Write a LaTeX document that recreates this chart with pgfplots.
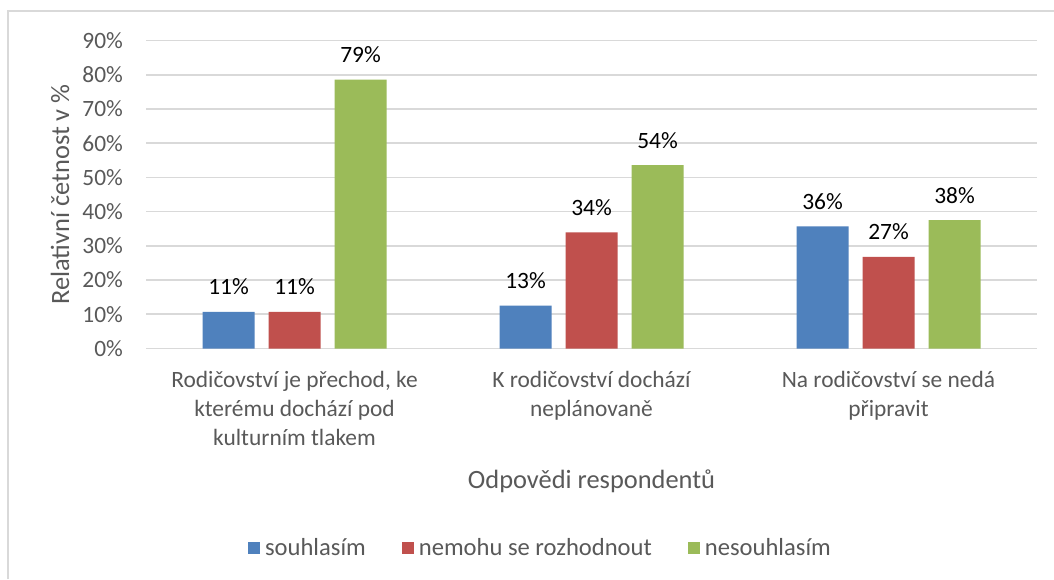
\documentclass[border=0pt]{standalone}
\usepackage{fontspec}
\setmainfont{Carlito}
\usepackage{pgfplots}
\pgfplotsset{compat=1.18}
\definecolor{cblue}{HTML}{4F81BD}
\definecolor{cred}{HTML}{C0504D}
\definecolor{cgreen}{HTML}{9BBB59}
\definecolor{txtgray}{HTML}{595959}
\definecolor{gridgray}{HTML}{D9D9D9}

\begin{document}
\begin{tikzpicture}
\useasboundingbox (0,0) rectangle (527pt,289.5pt);
\fill[white] (0,0) rectangle (527pt,289.5pt);
\draw[gridgray, line width=0.8pt] (4pt,0) -- (4pt,284pt) -- (527pt,284pt);
\begin{axis}[
    at={(73pt,115.25pt)}, anchor=south west,
    scale only axis, width=445.5pt, height=154pt,
    ybar=7pt, bar width=26pt,
    xmin=-0.5, xmax=2.5, ymin=0, ymax=90,
    xtick={0,1,2},
    xticklabels={{Rodičovství je přechod, ke\\kterému dochází pod\\kulturním tlakem},
                 {K rodičovství dochází\\neplánovaně},
                 {Na rodičovství se nedá\\připravit}},
    ytick={0,10,...,90},
    yticklabel={\pgfmathprintnumber{\tick}\%},
    /pgf/number format/assume math mode=true,
    ymajorgrids, grid style={gridgray, line width=0.8pt},
    axis line style={draw=none},
    major tick length=0pt,
    tick label style={text=txtgray, font=\fontsize{11.7}{14.5}\selectfont},
    x tick label style={align=center, anchor=north, yshift=-8pt},
    y tick label style={anchor=east, xshift=-8pt},
    xlabel={Odpovědi respondentů},
    ylabel={Relativní četnost v \%},
    label style={text=txtgray, font=\fontsize{13.2}{15}\selectfont},
    xlabel style={at={(axis description cs:0.5,-0.43)}, anchor=center},
    ylabel style={at={(axis description cs:-0.0965,0.5)}, anchor=center},
    point meta=explicit symbolic,
    nodes near coords,
    every node near coord/.append style={anchor=base, yshift=8.5pt, text=black,
        font=\fontsize{11.7}{14}\selectfont},
    legend style={at={(axis description cs:0.4444,-0.649)}, anchor=center,
        draw=none, fill=none, legend columns=-1, text=txtgray,
        font=\fontsize{12.3}{14}\selectfont,
        nodes={inner xsep=2.5pt},
        /tikz/every even column/.append style={column sep=15.5pt}},
    legend image code/.code={\fill[#1] (0pt,-3pt) rectangle (6pt,3pt);},
]
\addplot[fill=cblue, draw=none] coordinates {(0,10.7) [11\%] (1,12.5) [13\%] (2,35.7) [36\%]};
\addplot[fill=cred, draw=none] coordinates {(0,10.7) [11\%] (1,33.9) [34\%] (2,26.8) [27\%]};
\addplot[fill=cgreen, draw=none] coordinates {(0,78.6) [79\%] (1,53.6) [54\%] (2,37.5) [38\%]};
\legend{souhlasím, nemohu se rozhodnout, nesouhlasím}
\end{axis}
\end{tikzpicture}
\end{document}
